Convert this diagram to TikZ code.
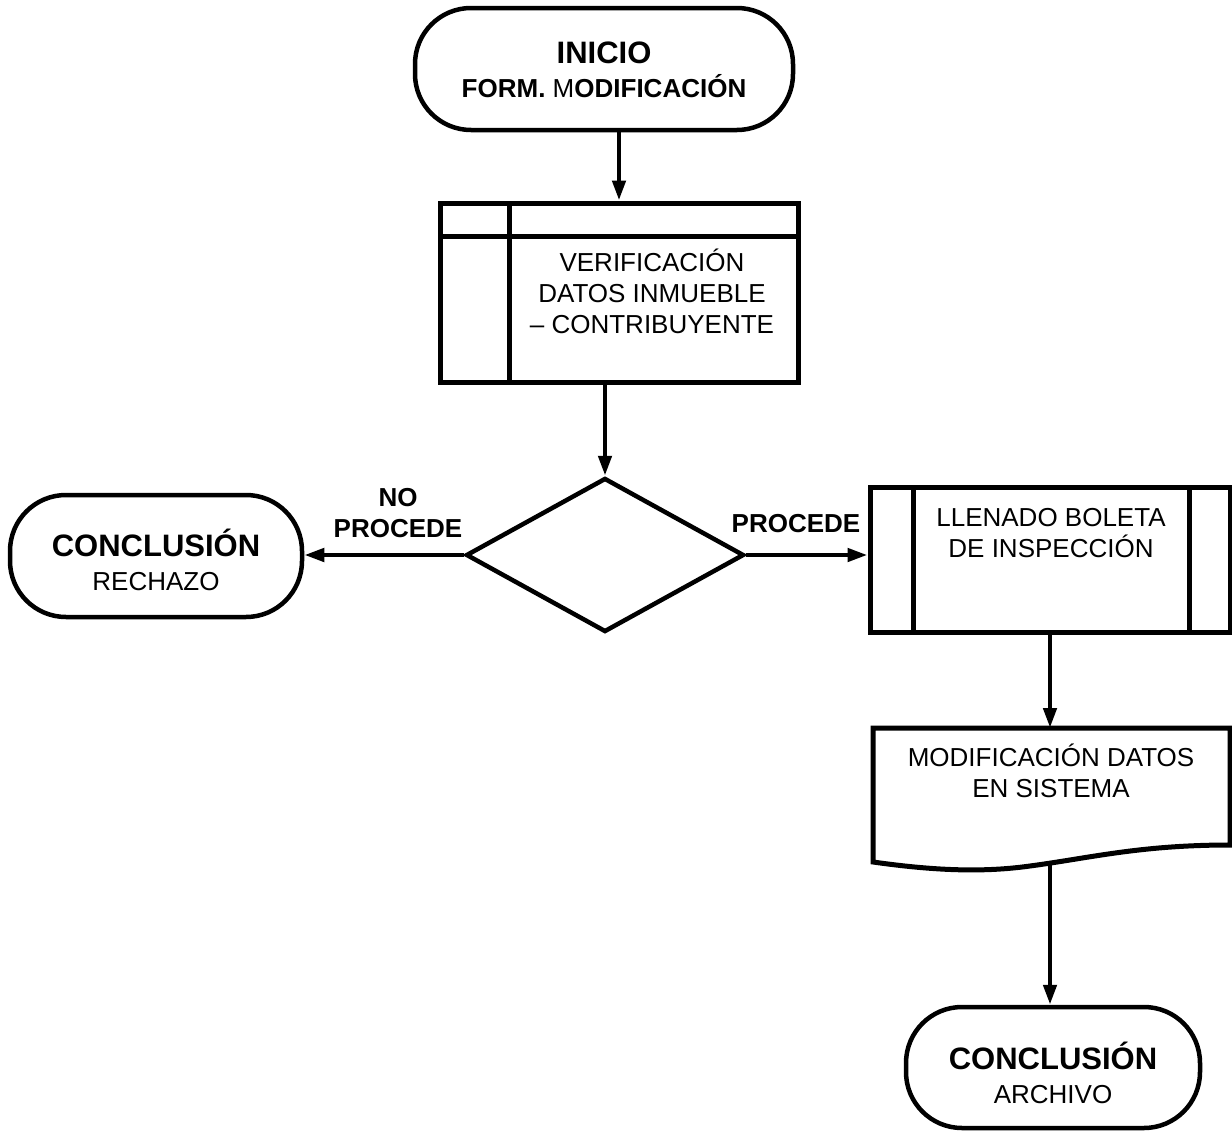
\documentclass[tikz,border=0pt]{standalone}
\usepackage{fontspec}
\setmainfont{Liberation Sans}
\usetikzlibrary{arrows.meta,shapes.geometric}

\tikzset{
  terminal/.style={draw, line width=4.5pt, rounded corners=56pt, inner sep=0pt},
  procbox/.style={draw, line width=5pt, inner sep=0pt},
  divider/.style={line width=5pt},
  decision/.style={diamond, draw, line width=4.5pt, inner sep=0pt},
  flow/.style={line width=4.5pt, -{Triangle[length=20pt,width=13pt]}},
  txt/.style={align=center, inner sep=0pt, font=\fontsize{26}{31}\selectfont},
  lbl/.style={align=center, inner sep=0pt, font=\fontsize{26}{31}\selectfont\bfseries},
}

\begin{document}
\begin{tikzpicture}[x=1pt, y=-1pt]
\useasboundingbox (0,0) rectangle (1232,1135);

% start terminal
\node[terminal, minimum width=378pt, minimum height=122pt] (start) at (604,69) {};
\node[txt] (starttxt) at (604,70)
  {{\fontsize{31}{31}\selectfont\bfseries INICIO}\\[3pt]
   \textbf{FORM.} M\textbf{ODIFICACIÓN}};

% verification process box
\node[procbox, minimum width=358pt, minimum height=179pt] (verif) at (619,292.5) {};
\draw[divider] (509,203) -- (509,382);
\draw[divider] (440,236) -- (798,236);
\node[txt] (veriftxt) at (652,291) {VERIFICACIÓN\\DATOS INMUEBLE\\– CONTRIBUYENTE};

% decision
\node[decision, minimum width=278pt, minimum height=154pt] (dec) at (605,555) {};

% rejection terminal
\node[terminal, minimum width=292pt, minimum height=122pt] (rej) at (156,556) {};
\node[txt] (rejtxt) at (156,560)
  {{\fontsize{31}{31}\selectfont\bfseries CONCLUSIÓN}\\[3pt]RECHAZO};

% inspection form box
\node[procbox, minimum width=360pt, minimum height=145pt] (insp) at (1050,559.5) {};
\draw[divider] (913,487) -- (913,632);
\draw[divider] (1189,487) -- (1189,632);
\node[txt] (insptxt) at (1051,533) {LLENADO BOLETA\\DE INSPECCIÓN};

% document shape
\coordinate (doctop) at (1050,728);
\coordinate (docbot) at (1050,864);
\draw[line width=5pt, line join=miter]
  (873,862) -- (873,728) -- (1230,728) -- (1230,845)
  .. controls (1140,845) and (1090,858) .. (1030,866)
  .. controls (980,873) and (930,870) .. (873,862) -- cycle;
\node[txt] (doctxt) at (1051,771) {MODIFICACIÓN DATOS\\EN SISTEMA};

% archive terminal
\node[terminal, minimum width=294pt, minimum height=121pt] (arch) at (1053,1067.5) {};
\node[txt] (archtxt) at (1053,1073)
  {{\fontsize{31}{31}\selectfont\bfseries CONCLUSIÓN}\\[3pt]ARCHIVO};

% connectors
\draw[flow] (start.south -| verif.north) -- (verif.north);
\draw[flow] (verif.south -| dec.north) -- (dec.north);
\draw[flow] (dec.west) -- (dec.west -| rej.east);
\draw[flow] (dec.east) -- (dec.east -| insp.west);
\draw[flow] (insp.south) -- (doctop);
\draw[flow] (docbot) -- (arch.north -| docbot);

% branch labels
\node[lbl] (nolbl) at (398,513) {NO\\PROCEDE};
\node[lbl] (yeslbl) at (796,524) {PROCEDE};
\end{tikzpicture}
\end{document}
